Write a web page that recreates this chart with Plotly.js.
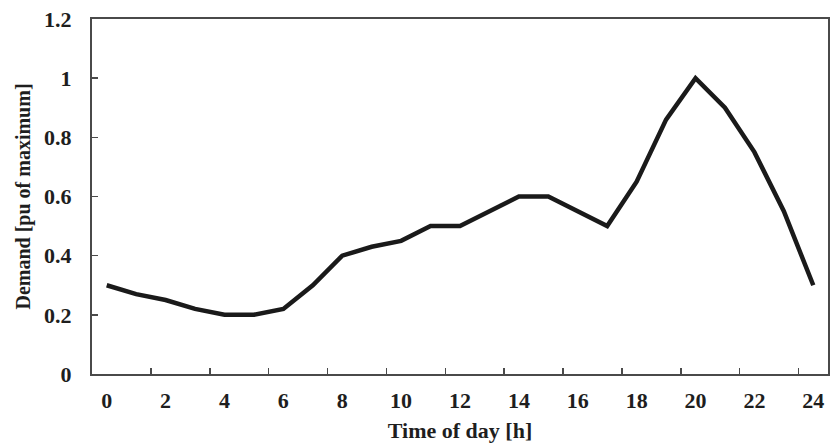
<!DOCTYPE html>
<html>
<head>
<meta charset="utf-8">
<script src="https://cdn.plot.ly/plotly-3.0.1.min.js"></script>
<style>
  html, body { margin: 0; padding: 0; background: #ffffff; }
  #chart { width: 830px; height: 447px; }
</style>
</head>
<body>
<div id="chart"></div>
<script>
// Hour of day (category positions)
var hours = [0, 1, 2, 3, 4, 5, 6, 7, 8, 9, 10, 11, 12, 13, 14, 15, 16, 17, 18, 19, 20, 21, 22, 23, 24];
// Demand in per unit of maximum
var demand = [0.30, 0.27, 0.25, 0.22, 0.20, 0.20, 0.22, 0.30, 0.40, 0.43, 0.45, 0.50, 0.50, 0.55, 0.60, 0.60, 0.55, 0.50, 0.65, 0.86, 1.00, 0.90, 0.75, 0.55, 0.30];
// Tick labels
var xTickLabels = ['0', '2', '4', '6', '8', '10', '12', '14', '16', '18', '20', '22', '24'];
var yTickValues = [0, 0.2, 0.4, 0.6, 0.8, 1.0, 1.2];
var yTickLabels = ['0', '0.2', '0.4', '0.6', '0.8', '1', '1.2'];

var fontFamily = '"Liberation Serif", "Times New Roman", Times, serif';
var axisColor = '#4a4a4a';
var textColor = '#1e1e1e';

var xTickVals = xTickLabels.map(function (s) { return Number(s); });
// Excel-style category tick marks sit between labelled categories
var xMarkVals = [];
for (var i = 0; i < xTickVals.length - 1; i++) {
  xMarkVals.push((xTickVals[i] + xTickVals[i + 1]) / 2 + 0.5);
}

var trace = {
  x: hours,
  y: demand,
  type: 'scatter',
  mode: 'lines',
  line: { color: '#1a1a1a', width: 4.5, shape: 'linear' },
  hoverinfo: 'x+y',
  showlegend: false
};

var layout = {
  width: 830,
  height: 447,
  margin: { l: 92, r: 2, t: 19, b: 73 },
  paper_bgcolor: '#ffffff',
  plot_bgcolor: '#ffffff',
  font: { family: fontFamily, color: textColor, size: 22, weight: 'bold' },
  showlegend: false,
  xaxis: {
    range: [-0.5, 24.5],
    tickmode: 'array',
    tickvals: xTickVals,
    ticktext: xTickLabels,
    ticks: '',
    ticklabelstandoff: 6,
    tickfont: { family: fontFamily, size: 22, color: textColor, weight: 'bold' },
    minor: {
      tickmode: 'array',
      tickvals: xMarkVals,
      ticks: 'inside',
      ticklen: 6,
      tickwidth: 1.5,
      tickcolor: axisColor,
      showgrid: false
    },
    showline: true,
    mirror: true,
    linecolor: axisColor,
    linewidth: 2,
    showgrid: false,
    zeroline: false,
    fixedrange: true,
    title: {
      text: 'Time of day [h]',
      font: { family: fontFamily, size: 22, color: textColor, weight: 'bold' },
      standoff: 10
    }
  },
  yaxis: {
    range: [0, 1.2],
    tickmode: 'array',
    tickvals: yTickValues,
    ticktext: yTickLabels,
    ticks: 'inside',
    ticklen: 6,
    tickwidth: 1.5,
    tickcolor: axisColor,
    ticklabelstandoff: 14,
    tickfont: { family: fontFamily, size: 22, color: textColor, weight: 'bold' },
    showline: true,
    mirror: true,
    linecolor: axisColor,
    linewidth: 2,
    showgrid: false,
    zeroline: false,
    fixedrange: true,
    title: {
      text: 'Demand [pu of maximum]',
      font: { family: fontFamily, size: 20, color: textColor, weight: 'bold' },
      standoff: 8
    }
  }
};

Plotly.newPlot('chart', [trace], layout, { displayModeBar: false, staticPlot: true });
</script>
</body>
</html>
